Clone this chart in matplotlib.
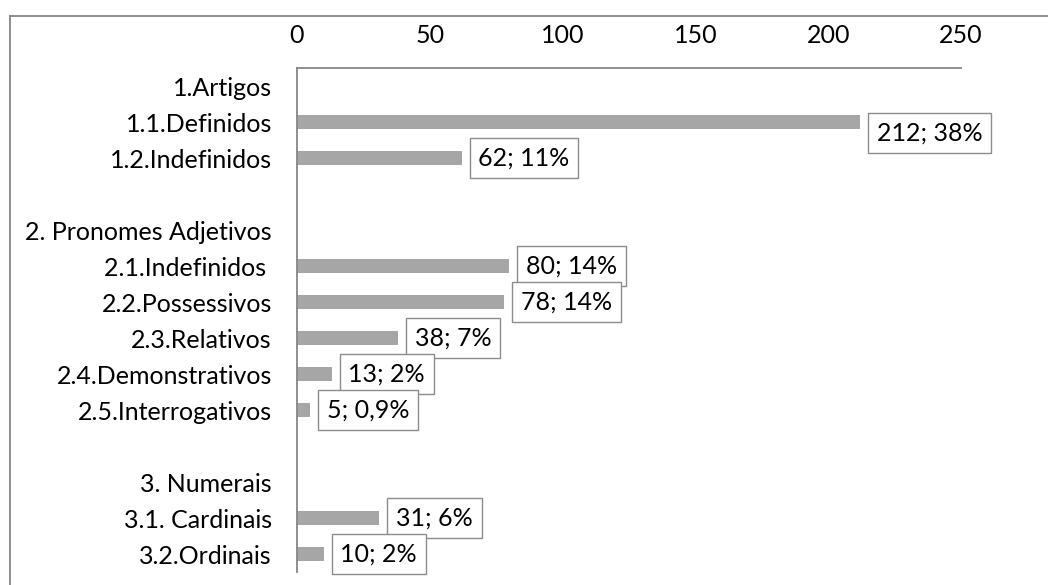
import matplotlib
matplotlib.use("Agg")
import matplotlib.pyplot as plt
from matplotlib.lines import Line2D

plt.rcParams['font.family'] = ['Lato', 'DejaVu Sans']

categories = [
    "1.Artigos", "1.1.Definidos", "1.2.Indefinidos", "",
    "2. Pronomes Adjetivos", "2.1.Indefinidos ", "2.2.Possessivos",
    "2.3.Relativos", "2.4.Demonstrativos", "2.5.Interrogativos", "",
    "3. Numerais", "3.1. Cardinais", "3.2.Ordinais",
]
values = [None, 212, 62, None, None, 80, 78, 38, 13, 5, None, None, 31, 10]
percents = [None, "38%", "11%", None, None, "14%", "14%", "7%", "2%", "0,9%",
            None, None, "6%", "2%"]
x_ticks = [0, 50, 100, 150, 200, 250]

W, H = 1048, 585
fig = plt.figure(figsize=(W / 100, H / 100), dpi=100)
ax = fig.add_axes([297 / W, 1 - 572 / H, (961 - 297) / W, (572 - 68) / H])

fs = 18
bar_color = "#A6A6A6"
axis_color = "#868686"

ypos = list(range(len(categories)))
for y, v in zip(ypos, values):
    if v is not None:
        ax.barh(y, v, height=0.4, color=bar_color, edgecolor="none")

# value labels in boxes (the first one sits a little lower)
label_shift = {1: -11}
pad = 0.35
for y, v, p in zip(ypos, values, percents):
    if v is None:
        continue
    ax.annotate(f"{v}; {p}", xy=(v, y),
                xytext=(8 + pad * fs * 100 / 72, label_shift.get(y, 0)),
                textcoords="offset pixels", ha="left", va="center",
                fontsize=fs, color="black",
                bbox=dict(boxstyle=f"square,pad={pad}", fc="white",
                          ec="#8C8C8C", lw=1.0))

ax.set_xlim(0, 250)
ax.set_ylim(len(categories) - 0.5, -0.5)
ax.set_xticks(x_ticks)
ax.set_xticklabels([str(t) for t in x_ticks])
ax.set_yticks(ypos)
ax.set_yticklabels(categories)
ax.xaxis.tick_top()
ax.tick_params(axis="x", length=0, pad=15, labelsize=fs)
ax.tick_params(axis="y", length=0, pad=18, labelsize=fs)

for side in ["right", "bottom"]:
    ax.spines[side].set_visible(False)
for side in ["top", "left"]:
    ax.spines[side].set_color(axis_color)
    ax.spines[side].set_linewidth(1.3)

# outer chart frame
x0, y0 = 9.5 / W, 1 - 15.5 / H
fig.add_artist(Line2D([x0, 1], [y0, y0], color=axis_color, lw=1.3,
                      transform=fig.transFigure))
fig.add_artist(Line2D([x0, x0], [0, y0], color=axis_color, lw=1.3,
                      transform=fig.transFigure))

fig.savefig("out.png", dpi=100)
